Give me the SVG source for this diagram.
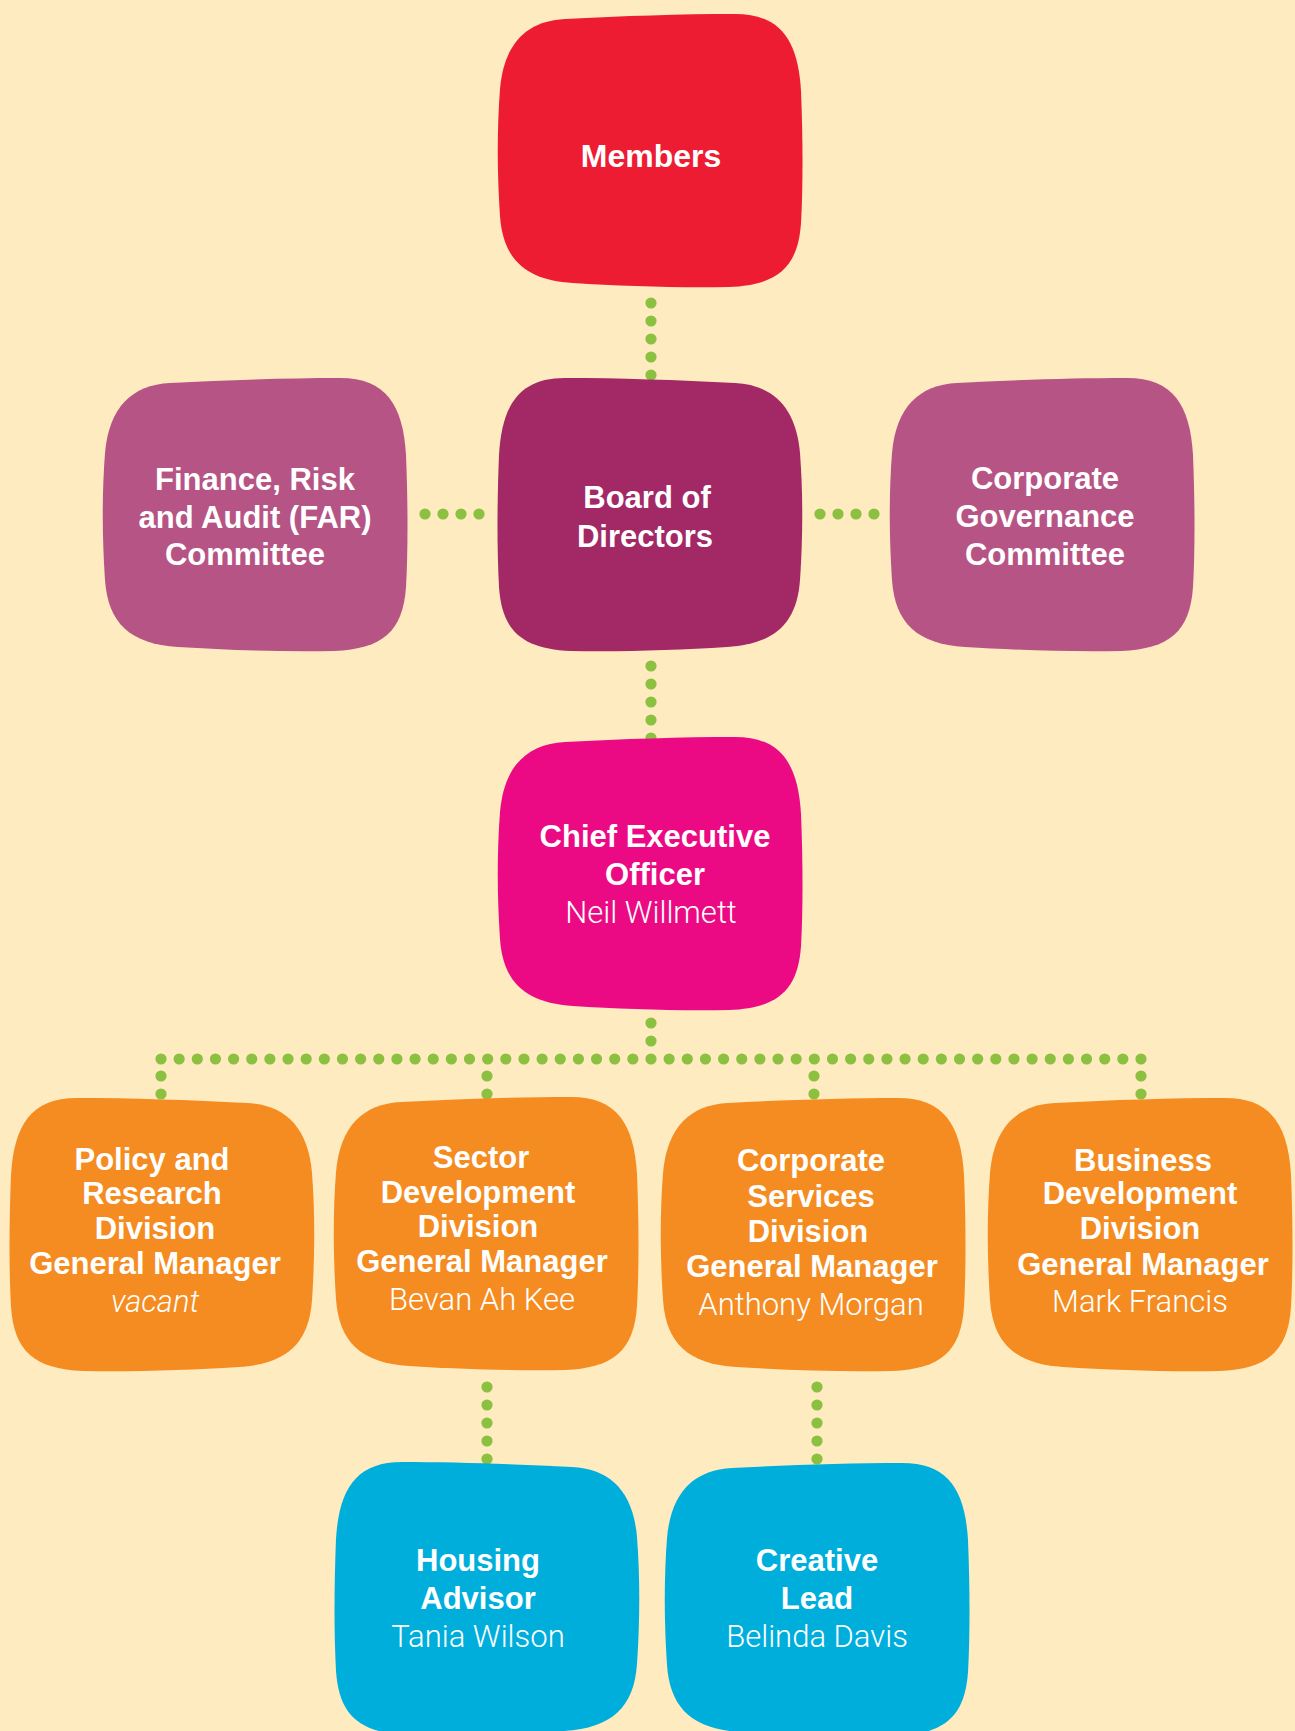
<svg xmlns="http://www.w3.org/2000/svg" xmlns:xlink="http://www.w3.org/1999/xlink" width="1295" height="1731" viewBox="0 0 1295 1731">
<style>
.b{font-family:"Liberation Sans",Arial,sans-serif;font-weight:bold;font-size:31px;fill:#fff;text-anchor:middle}
.l{font-family:Roboto,"Liberation Sans",Arial,sans-serif;font-weight:300;font-size:31px;fill:#fff;text-anchor:middle}
.i{font-style:italic}
.dot{fill:#8CC041}
</style>
<defs>
<path id="blob" d="M68,8 C125,5 185,3 238,3 C284,3 301,30 304,80 C306,130 306,175 304,212 C301,256 281,274 232,276 C180,277 125,275 76,272 C28,269 6,248 3,205 C0,160 0,118 3,78 C7,32 30,10 68,8 Z"/>
<circle id="d" r="5.6" class="dot"/>
</defs>
<rect width="1295" height="1731" fill="#FEEBBF"/>

<g id="connectors">
<use xlink:href="#d" x="651" y="303"/><use xlink:href="#d" x="651" y="321"/><use xlink:href="#d" x="651" y="339"/><use xlink:href="#d" x="651" y="357"/><use xlink:href="#d" x="651" y="375"/>
<use xlink:href="#d" x="425" y="514"/><use xlink:href="#d" x="443" y="514"/><use xlink:href="#d" x="461" y="514"/><use xlink:href="#d" x="479" y="514"/>
<use xlink:href="#d" x="820" y="514"/><use xlink:href="#d" x="838" y="514"/><use xlink:href="#d" x="856" y="514"/><use xlink:href="#d" x="874" y="514"/>
<use xlink:href="#d" x="651" y="666"/><use xlink:href="#d" x="651" y="684"/><use xlink:href="#d" x="651" y="702"/><use xlink:href="#d" x="651" y="720"/><use xlink:href="#d" x="651" y="738"/>
<use xlink:href="#d" x="651" y="1023"/><use xlink:href="#d" x="651" y="1041"/>
<line x1="161" y1="1059" x2="1141" y2="1059" stroke="#8CC041" stroke-width="11.2" stroke-linecap="round" stroke-dasharray="0 18.148"/>
<use xlink:href="#d" x="161" y="1076"/><use xlink:href="#d" x="161" y="1094"/>
<use xlink:href="#d" x="487" y="1076"/><use xlink:href="#d" x="487" y="1094"/>
<use xlink:href="#d" x="814" y="1076"/><use xlink:href="#d" x="814" y="1094"/>
<use xlink:href="#d" x="1141" y="1076"/><use xlink:href="#d" x="1141" y="1094"/>
<use xlink:href="#d" x="487" y="1387"/><use xlink:href="#d" x="487" y="1405"/><use xlink:href="#d" x="487" y="1423"/><use xlink:href="#d" x="487" y="1441"/><use xlink:href="#d" x="487" y="1459"/>
<use xlink:href="#d" x="817" y="1387"/><use xlink:href="#d" x="817" y="1405"/><use xlink:href="#d" x="817" y="1423"/><use xlink:href="#d" x="817" y="1441"/><use xlink:href="#d" x="817" y="1459"/>
</g>

<g id="members">
<use xlink:href="#blob" transform="translate(497,11)" fill="#ED1C33"/>
<text class="b" x="651" y="167" style="font-size:32px">Members</text>
</g>

<g id="board">
<use xlink:href="#blob" transform="translate(803,375) scale(-1,1)" fill="#A22866"/>
<text class="b" x="647" y="508">Board of</text>
<text class="b" x="645" y="547">Directors</text>
</g>

<g id="far">
<use xlink:href="#blob" transform="translate(102,375)" fill="#B65485"/>
<text class="b" x="255" y="490">Finance, Risk</text>
<text class="b" x="255" y="528">and Audit (FAR)</text>
<text class="b" x="245" y="565">Committee</text>
</g>

<g id="governance">
<use xlink:href="#blob" transform="translate(889,375)" fill="#B65485"/>
<text class="b" x="1045" y="489">Corporate</text>
<text class="b" x="1045" y="527">Governance</text>
<text class="b" x="1045" y="565">Committee</text>
</g>

<g id="ceo">
<use xlink:href="#blob" transform="translate(497,734)" fill="#EB0A83"/>
<text class="b" x="655" y="847">Chief Executive</text>
<text class="b" x="655" y="885">Officer</text>
<text class="l" x="651" y="923">Neil Willmett</text>
</g>

<g id="policy">
<use xlink:href="#blob" transform="translate(315,1095) scale(-1,1)" fill="#F58C21"/>
<text class="b" x="152" y="1170">Policy and</text>
<text class="b" x="152" y="1204">Research</text>
<text class="b" x="155" y="1239">Division</text>
<text class="b" x="155" y="1274">General Manager</text>
<text class="l i" x="155" y="1312">vacant</text>
</g>

<g id="sector">
<use xlink:href="#blob" transform="translate(333,1094)" fill="#F58C21"/>
<text class="b" x="481" y="1168">Sector</text>
<text class="b" x="478" y="1203">Development</text>
<text class="b" x="478" y="1237">Division</text>
<text class="b" x="482" y="1272">General Manager</text>
<text class="l" x="482" y="1310">Bevan Ah Kee</text>
</g>

<g id="corporate-services">
<use xlink:href="#blob" transform="translate(660,1095)" fill="#F58C21"/>
<text class="b" x="811" y="1171">Corporate</text>
<text class="b" x="811" y="1207">Services</text>
<text class="b" x="808" y="1242">Division</text>
<text class="b" x="812" y="1277">General Manager</text>
<text class="l" x="811" y="1315">Anthony Morgan</text>
</g>

<g id="business">
<use xlink:href="#blob" transform="translate(987,1095)" fill="#F58C21"/>
<text class="b" x="1143" y="1171">Business</text>
<text class="b" x="1140" y="1204">Development</text>
<text class="b" x="1140" y="1239">Division</text>
<text class="b" x="1143" y="1275">General Manager</text>
<text class="l" x="1140" y="1312">Mark Francis</text>
</g>

<g id="housing">
<use xlink:href="#blob" transform="translate(640,1459) scale(-1,1)" fill="#00AEDC"/>
<text class="b" x="478" y="1571">Housing</text>
<text class="b" x="478" y="1609">Advisor</text>
<text class="l" x="478" y="1647">Tania Wilson</text>
</g>

<g id="creative">
<use xlink:href="#blob" transform="translate(664,1460)" fill="#00AEDC"/>
<text class="b" x="817" y="1571">Creative</text>
<text class="b" x="817" y="1609">Lead</text>
<text class="l" x="817" y="1647">Belinda Davis</text>
</g>
</svg>
